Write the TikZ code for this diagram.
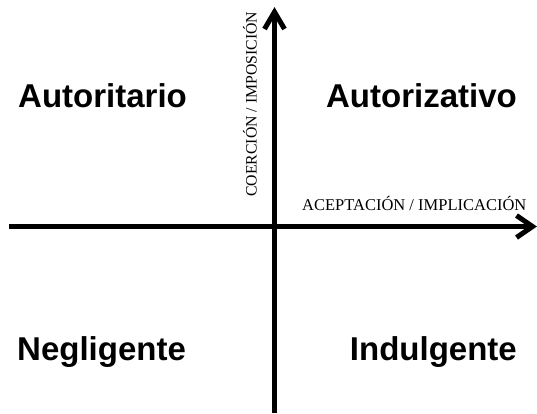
\documentclass[tikz,border=0pt]{standalone}
\usepackage{fontspec}
\setmainfont{Liberation Serif}
\newfontfamily\quadfont{Liberation Sans}
\begin{document}
\begin{tikzpicture}[x=1pt,y=1pt,
  axis/.style={line width=5pt, black},
  barb/.style={line width=5pt, black, line join=miter, miter limit=10},
  quad/.style={inner sep=0pt, font=\quadfont\bfseries\fontsize{33}{36}\selectfont},
  axlabel/.style={inner sep=0pt, font=\fontsize{15.8}{17}\selectfont}]
\useasboundingbox (0,0) rectangle (537,-413);
% axes
\coordinate (hs) at (9,-226.5);
\coordinate (he) at (532.5,-226.5);
\coordinate (vs) at (274.5,-413);
\coordinate (ve) at (274.5,-12);
\draw[axis] (hs) -- (he);
\draw[axis] (vs) -- (ve);
\draw[barb] ([shift={(-16,11)}]he) -- (he) -- ([shift={(-16,-11)}]he);
\draw[barb] ([shift={(-10,-17)}]ve) -- (ve) -- ([shift={(10,-17)}]ve);
% axis labels
\node[axlabel, anchor=base west, font=\fontsize{16.5}{18}\selectfont] (xl) at (302,-210) {ACEPTACIÓN / IMPLICACIÓN};
\node[axlabel, anchor=base west, rotate=90] (yl) at (256.5,-197) {COERCIÓN / IMPOSICIÓN};
% quadrant labels
\node[quad, anchor=base west] (q1) at (18,-107.5) {Autoritario};
\node[quad, anchor=base east] (q2) at (517,-107.5) {Autorizativo};
\node[quad, anchor=base west] (q3) at (17,-360) {Negligente};
\node[quad, anchor=base east] (q4) at (517,-360) {Indulgente};
\end{tikzpicture}
\end{document}
